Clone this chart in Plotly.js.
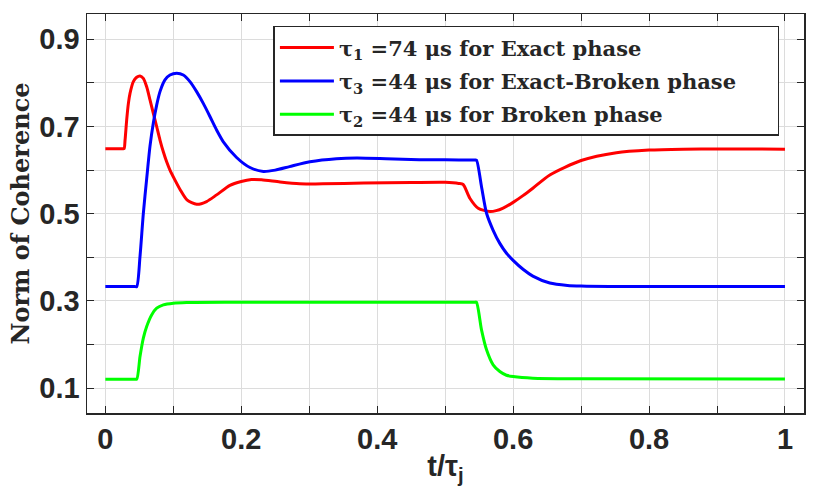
<!DOCTYPE html>
<html><head><meta charset="utf-8">
<script src="https://cdn.plot.ly/plotly-3.0.1.min.js"></script>
<style>html,body{margin:0;padding:0;background:#fff}#plot{width:817px;height:486px}</style>
</head><body><div id="plot"></div>
<script>
// Exact phase (tau1)
const redX = [0, 0.025, 0.0275, 0.029, 0.0314, 0.0339, 0.0363, 0.0412, 0.0461, 0.051, 0.0559, 0.0608, 0.0657, 0.0706, 0.0755, 0.0804, 0.0853, 0.0902, 0.0951, 0.1025, 0.1103, 0.1201, 0.1344, 0.149, 0.1637, 0.1833, 0.2, 0.215, 0.23, 0.257, 0.286, 0.32, 0.38, 0.45, 0.5, 0.52, 0.5265, 0.5363, 0.5486, 0.5657, 0.575, 0.5853, 0.6, 0.615, 0.629, 0.654, 0.7, 0.752, 0.8, 0.85, 0.9, 1.0];
const redY = [0.649, 0.649, 0.649, 0.669, 0.715, 0.753, 0.776, 0.803, 0.813, 0.816, 0.8105, 0.791, 0.761, 0.730, 0.700, 0.669, 0.642, 0.619, 0.600, 0.577, 0.5545, 0.5318, 0.5218, 0.528, 0.5432, 0.565, 0.574, 0.5785, 0.578, 0.573, 0.569, 0.5685, 0.5705, 0.5715, 0.572, 0.5695, 0.567, 0.5355, 0.5126, 0.505, 0.507, 0.513, 0.526, 0.542, 0.5585, 0.589, 0.622, 0.640, 0.646, 0.648, 0.6486, 0.648];
// Exact-Broken phase (tau3)
const blueX = [0, 0.043, 0.0462, 0.051, 0.0559, 0.0608, 0.0657, 0.0706, 0.0755, 0.0804, 0.0877, 0.0951, 0.105, 0.1147, 0.1245, 0.1343, 0.1441, 0.1539, 0.1637, 0.1736, 0.1931, 0.2128, 0.2324, 0.25, 0.271, 0.301, 0.34, 0.37, 0.413, 0.462, 0.5, 0.543, 0.546, 0.5535, 0.5609, 0.5706, 0.5804, 0.59, 0.6, 0.615, 0.629, 0.654, 0.68, 0.7, 0.75, 1.0];
const blueY = [0.333, 0.333, 0.333, 0.402, 0.501, 0.58, 0.655, 0.708, 0.749, 0.780, 0.807, 0.818, 0.822, 0.818, 0.803, 0.780, 0.753, 0.723, 0.692, 0.665, 0.629, 0.606, 0.597, 0.600, 0.608, 0.619, 0.626, 0.6278, 0.6262, 0.624, 0.6237, 0.623, 0.623, 0.562, 0.501, 0.462, 0.432, 0.41, 0.393, 0.372, 0.357, 0.341, 0.3355, 0.334, 0.333, 0.333];
// Broken phase (tau2)
const greenX = [0, 0.043, 0.0462, 0.051, 0.0559, 0.0608, 0.0681, 0.0755, 0.0853, 0.1, 0.1196, 0.1833, 0.543, 0.546, 0.5535, 0.5609, 0.5706, 0.5804, 0.5902, 0.6, 0.629, 0.7, 1.0];
const greenY = [0.1206, 0.1206, 0.1206, 0.1725, 0.2147, 0.2414, 0.268, 0.2834, 0.291, 0.2948, 0.2963, 0.297, 0.297, 0.297, 0.2336, 0.1878, 0.1534, 0.138, 0.1296, 0.1266, 0.1228, 0.1215, 0.121];

const names = ['τ<sub>1</sub> =74 μs for Exact phase', 'τ<sub>3</sub> =44 μs for Exact-Broken phase\u00a0\u00a0\u00a0\u00a0\u00a0', 'τ<sub>2</sub> =44 μs for Broken phase'];
const xTitle = 't/τ<sub>j</sub>';
const yTitle = 'Norm of Coherence';

const axColor = '#262626';
const gridColor = '#dcdcdc';
const tickFont = {family: 'Liberation Sans, Arial, sans-serif', size: 29, color: axColor, weight: 'bold'};
const serifFont = 'DejaVu Serif, serif';

const traces = [
  {x: redX, y: redY, name: names[0], legendgroup: 'a', mode: 'lines', line: {color: '#ff0000', width: 3, shape: 'spline', smoothing: 0.7}},
  {x: blueX, y: blueY, name: names[1], legendgroup: 'b', mode: 'lines', line: {color: '#0000ff', width: 3, shape: 'spline', smoothing: 0.7}},
  {x: greenX, y: greenY, name: names[2], legendgroup: 'c', mode: 'lines', line: {color: '#00ff00', width: 3, shape: 'spline', smoothing: 0.7}}
];

const layout = {
  width: 817, height: 486,
  margin: {l: 86.7, r: 12.7, t: 14, b: 72.7},
  paper_bgcolor: '#ffffff', plot_bgcolor: '#ffffff',
  showlegend: true,
  legend: {
    x: 0.26, y: 0.97, xanchor: 'left', yanchor: 'top',
    bgcolor: '#ffffff', bordercolor: axColor, borderwidth: 1.5,
    font: {family: serifFont, size: 21, color: axColor, weight: 'bold'},
    itemwidth: 54, tracegroupgap: 3
  },
  xaxis: {
    range: [-0.027, 1.028], tick0: 0, dtick: 0.2,
    showline: true, linecolor: axColor, linewidth: 1.5, mirror: 'ticks',
    ticks: 'inside', ticklen: 7, tickcolor: axColor, tickwidth: 1,
    showgrid: true, gridcolor: gridColor, gridwidth: 1, zeroline: false,
    tickfont: tickFont,
    minor: {dtick: 0.1, ticks: 'inside', ticklen: 7, tickcolor: axColor, showgrid: true, gridcolor: gridColor, gridwidth: 1},
    title: {text: xTitle, font: tickFont, standoff: 8}
  },
  yaxis: {
    range: [0.043, 0.958], tick0: 0.1, dtick: 0.2,
    showline: true, linecolor: axColor, linewidth: 1.5, mirror: 'ticks',
    ticks: 'inside', ticklen: 7, tickcolor: axColor, tickwidth: 1,
    showgrid: true, gridcolor: gridColor, gridwidth: 1, zeroline: false,
    tickfont: tickFont,
    minor: {dtick: 0.1, ticks: 'inside', ticklen: 7, tickcolor: axColor, showgrid: true, gridcolor: gridColor, gridwidth: 1},
    title: {text: yTitle, font: {family: serifFont, size: 24, color: axColor, weight: 'bold'}, standoff: 3}
  }
};

Plotly.newPlot('plot', traces, layout, {displayModeBar: false, staticPlot: true});
</script>
</body></html>
